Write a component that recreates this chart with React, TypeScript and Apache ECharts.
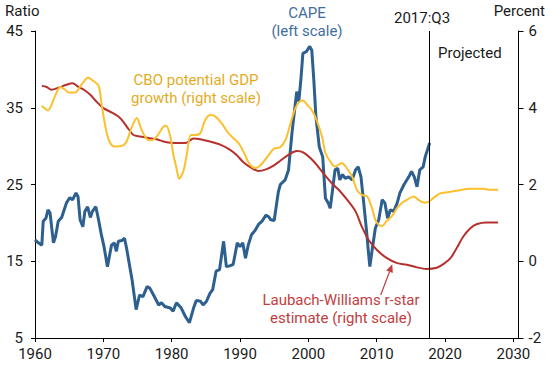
import React, { useEffect, useRef } from "react";
import * as echarts from "echarts";

const xTicks = [1960, 1970, 1980, 1990, 2000, 2010, 2020, 2030];
const leftTicks = [5, 15, 25, 35, 45];
const rightTicks = [-2, 0, 2, 4, 6];
const projectionStart = 2017.75;

const capeData: [number, number][] = [
  [1960.0, 17.8], [1960.5, 17.4], [1961.0, 17.1], [1961.2, 20.2], [1961.6, 20.6], [1961.9, 21.7],
  [1962.2, 21.3], [1962.7, 17.4], [1963.0, 18.2], [1963.4, 20.2], [1963.9, 20.7], [1964.6, 22.6],
  [1965.1, 23.3], [1965.5, 23.0], [1966.0, 23.9], [1966.3, 23.4], [1966.6, 20.4], [1967.0, 19.5],
  [1967.3, 21.5], [1967.7, 22.1], [1968.1, 20.7], [1968.4, 21.5], [1968.9, 22.1], [1969.3, 20.4],
  [1969.7, 18.5], [1970.1, 16.9], [1970.6, 14.3], [1971.2, 17.1], [1971.6, 17.4], [1971.9, 16.3],
  [1972.2, 17.6], [1972.7, 17.7], [1973.1, 18.0], [1973.4, 16.7], [1974.2, 12.6], [1974.8, 8.7],
  [1975.3, 10.6], [1975.8, 10.4], [1976.4, 11.7], [1976.8, 11.5], [1977.4, 10.5], [1978.1, 9.3],
  [1978.5, 9.6], [1979.0, 9.1], [1979.8, 8.9], [1980.2, 8.5], [1980.7, 9.6], [1981.4, 8.9],
  [1982.0, 7.8], [1982.6, 7.0], [1983.2, 8.9], [1983.6, 9.9], [1984.2, 9.8], [1984.6, 9.3],
  [1985.1, 9.8], [1985.6, 10.8], [1986.0, 11.3], [1986.5, 13.7], [1987.0, 13.9], [1987.6, 17.6],
  [1988.0, 14.3], [1988.5, 14.4], [1989.0, 14.6], [1989.6, 17.4], [1990.0, 16.9], [1990.4, 17.4],
  [1990.8, 15.4], [1991.2, 17.1], [1991.7, 18.5], [1992.2, 19.0], [1992.7, 19.8], [1993.2, 20.2],
  [1993.8, 21.0], [1994.2, 20.8], [1994.5, 20.4], [1995.0, 20.3], [1995.6, 24.0], [1995.9, 25.0],
  [1996.6, 25.6], [1997.1, 26.9], [1997.6, 31.7], [1998.1, 35.6], [1998.3, 37.1], [1998.6, 35.8],
  [1998.9, 38.6], [1999.2, 42.1], [1999.7, 42.3], [2000.2, 43.0], [2000.5, 42.5], [2000.8, 38.6],
  [2001.1, 33.9], [2001.6, 29.9], [2002.1, 28.6], [2002.5, 23.2], [2002.9, 22.6], [2003.2, 21.9],
  [2003.6, 24.7], [2003.9, 26.9], [2004.3, 27.1], [2004.6, 25.6], [2005.0, 26.3], [2005.4, 25.8],
  [2005.9, 26.0], [2006.4, 25.6], [2006.9, 26.9], [2007.3, 27.3], [2007.7, 26.0], [2008.1, 22.6],
  [2008.5, 19.1], [2008.8, 16.1], [2009.0, 14.3], [2009.4, 16.9], [2009.8, 19.3], [2010.3, 20.4],
  [2010.8, 23.0], [2011.2, 22.6], [2011.6, 20.6], [2012.0, 21.7], [2012.5, 21.5], [2013.0, 22.6],
  [2013.4, 23.9], [2014.0, 25.0], [2014.7, 26.0], [2015.1, 26.7], [2015.5, 26.0], [2015.9, 24.7],
  [2016.3, 26.9], [2016.8, 27.3], [2017.1, 28.6], [2017.75, 30.4],
];

const cboData: [number, number][] = [
  [1961.0, 4.05], [1961.9, 3.93], [1962.9, 4.29], [1963.7, 4.54], [1964.4, 4.47], [1964.9, 4.40],
  [1965.9, 4.40], [1966.8, 4.60], [1967.8, 4.79], [1968.3, 4.73], [1969.3, 4.57], [1969.8, 4.03],
  [1970.4, 3.42], [1971.0, 3.08], [1971.7, 2.99], [1972.9, 3.02], [1973.4, 3.12], [1974.2, 3.51],
  [1974.9, 3.73], [1975.6, 3.42], [1976.4, 3.18], [1977.1, 3.15], [1977.8, 3.25], [1978.8, 3.51],
  [1979.2, 3.53], [1979.8, 3.25], [1980.2, 2.82], [1980.7, 2.43], [1981.1, 2.15], [1981.7, 2.34],
  [1982.2, 2.77], [1982.8, 3.29], [1983.4, 3.29], [1984.2, 3.34], [1984.9, 3.68], [1985.7, 3.81],
  [1986.4, 3.77], [1987.3, 3.60], [1988.2, 3.36], [1989.0, 3.21], [1989.9, 3.05], [1990.7, 2.78],
  [1991.4, 2.53], [1992.2, 2.43], [1992.8, 2.47], [1993.4, 2.58], [1994.2, 2.77], [1995.0, 2.94],
  [1995.9, 2.97], [1996.7, 3.18], [1997.4, 3.60], [1998.1, 3.99], [1998.7, 4.16], [1999.2, 4.19],
  [1999.9, 4.06], [2000.5, 3.94], [2001.2, 3.68], [2002.0, 3.25], [2002.5, 2.82], [2003.2, 2.60],
  [2003.9, 2.47], [2004.9, 2.56], [2005.6, 2.43], [2006.4, 2.21], [2007.1, 1.86], [2007.8, 1.73],
  [2008.6, 1.69], [2009.3, 1.39], [2009.8, 1.08], [2010.3, 0.95], [2010.8, 0.91], [2011.4, 1.04],
  [2012.2, 1.17], [2013.0, 1.39], [2013.7, 1.52], [2014.4, 1.60], [2015.4, 1.69], [2016.1, 1.60],
  [2016.9, 1.53], [2017.6, 1.55], [2018.6, 1.69], [2019.3, 1.77], [2020.3, 1.80], [2021.7, 1.84],
  [2023.7, 1.89], [2025.6, 1.89], [2026.6, 1.86], [2027.75, 1.86],
];

const rstarData: [number, number][] = [
  [1961.0, 4.57], [1961.7, 4.54], [1962.4, 4.47], [1963.4, 4.52], [1964.6, 4.60], [1965.5, 4.64],
  [1966.3, 4.55], [1967.3, 4.45], [1968.1, 4.34], [1969.0, 4.16], [1970.0, 3.99], [1971.2, 3.88],
  [1972.2, 3.77], [1972.9, 3.64], [1973.7, 3.44], [1974.4, 3.29], [1975.4, 3.25], [1976.6, 3.21],
  [1977.8, 3.18], [1978.8, 3.12], [1979.8, 3.09], [1981.2, 3.08], [1982.2, 3.09], [1983.2, 3.20],
  [1984.2, 3.18], [1985.6, 3.12], [1987.1, 3.04], [1988.5, 2.91], [1989.5, 2.77], [1990.5, 2.58],
  [1991.5, 2.45], [1992.7, 2.35], [1993.9, 2.40], [1994.9, 2.49], [1995.9, 2.62], [1997.3, 2.80],
  [1998.3, 2.87], [1999.3, 2.83], [2000.8, 2.60], [2002.2, 2.29], [2003.5, 2.02], [2004.5, 1.85],
  [2005.6, 1.62], [2006.9, 1.30], [2007.8, 0.91], [2008.8, 0.56], [2010.0, 0.30], [2011.5, 0.08],
  [2013.0, -0.05], [2014.4, -0.09], [2015.9, -0.16], [2017.3, -0.20], [2018.8, -0.17], [2019.8, -0.07],
  [2020.8, 0.08], [2021.7, 0.34], [2022.7, 0.65], [2023.7, 0.86], [2024.7, 0.97], [2026.1, 1.01],
  [2027.75, 1.01],
];

const FONT = "Roboto";
const FS = 15;
const TEXT = "#1a1a1a";
const BLUE = "#2d5f8f";
const YELLOW = "#fcc02c";
const RED = "#b5312d";

export default function App() {
  const ref = useRef<HTMLDivElement>(null);
  useEffect(() => {
    if (!ref.current) return;
    const chart = echarts.init(ref.current, undefined, { renderer: "svg" });
    const axisLine = { show: true, onZero: false, lineStyle: { color: "#000", width: 1 } };
    const fmt = (v: number) => String(v);
    chart.setOption({
      animation: false,
      grid: { left: 35, right: 31.5, top: 31, bottom: 27, containLabel: false },
      xAxis: {
        type: "value",
        min: 1960,
        max: 2030.75,
        interval: 10,
        axisLine,
        splitLine: { show: false },
        axisTick: { show: true, length: 4, customValues: xTicks, lineStyle: { color: "#000" } },
        axisLabel: {
          customValues: xTicks,
          formatter: fmt,
          margin: 8,
          fontFamily: FONT,
          fontSize: FS,
          color: TEXT,
        },
      },
      yAxis: [
        {
          type: "value",
          position: "left",
          min: 5,
          max: 45,
          interval: 10,
          axisLine,
          splitLine: { show: false },
          axisTick: { show: true, length: 4, customValues: leftTicks, lineStyle: { color: "#000" } },
          axisLabel: { customValues: leftTicks, formatter: fmt, margin: 12, fontFamily: FONT, fontSize: FS, color: TEXT },
        },
        {
          type: "value",
          position: "right",
          min: -2,
          max: 6,
          interval: 2,
          axisLine,
          splitLine: { show: false },
          axisTick: { show: true, length: 5, customValues: rightTicks, lineStyle: { color: "#000" } },
          axisLabel: { customValues: rightTicks, formatter: fmt, margin: 10, fontFamily: FONT, fontSize: FS, color: TEXT },
        },
      ],
      series: [
        {
          type: "line",
          name: "CAPE",
          yAxisIndex: 0,
          data: capeData,
          showSymbol: false,
          lineStyle: { color: BLUE, width: 3 },
          itemStyle: { color: BLUE },
          z: 2,
        },
        {
          type: "line",
          name: "Laubach-Williams r-star",
          yAxisIndex: 1,
          data: rstarData,
          showSymbol: false,
          smooth: 0.3,
          lineStyle: { color: RED, width: 2 },
          itemStyle: { color: RED },
          z: 3,
        },
        {
          type: "line",
          name: "CBO potential GDP growth",
          yAxisIndex: 1,
          data: cboData,
          showSymbol: false,
          smooth: 0.3,
          lineStyle: { color: YELLOW, width: 2 },
          itemStyle: { color: YELLOW },
          z: 4,
          markLine: {
            silent: true,
            symbol: "none",
            label: { show: false },
            lineStyle: { color: "#000", width: 1, type: "solid" },
            data: [{ xAxis: projectionStart }],
          },
        },
      ],
      graphic: [
        { type: "text", x: 5, y: 11, style: { text: "Ratio", font: `${FS}px ${FONT}`, fill: TEXT, verticalAlign: "middle" } },
        { type: "text", x: 545, y: 11, style: { text: "Percent", font: `${FS}px ${FONT}`, fill: TEXT, align: "right", verticalAlign: "middle" } },
        {
          type: "text", x: 422, y: 18,
          style: { text: "2017:Q3", font: `${FS}px ${FONT}`, fill: TEXT, align: "center", verticalAlign: "middle" },
        },
        {
          type: "text", x: 438, y: 53,
          style: { text: "Projected", font: `${FS}px ${FONT}`, fill: TEXT, align: "left", verticalAlign: "middle" },
        },
        {
          type: "text", x: 307, y: 3.5,
          style: {
            text: "CAPE\n(left scale)", font: `${FS}px ${FONT}`, fill: "#3f6e9c",
            align: "center", verticalAlign: "top", lineHeight: 18,
          },
        },
        {
          type: "text", x: 196, y: 71,
          style: {
            text: "CBO potential GDP\ngrowth (right scale)", font: `${FS}px ${FONT}`, fill: "#e3ac1f",
            align: "center", verticalAlign: "top", lineHeight: 18,
          },
        },
        {
          type: "text", x: 341, y: 291,
          style: {
            text: "Laubach-Williams r-star\nestimate (right scale)", font: `${FS}px ${FONT}`, fill: "#c0403f",
            align: "center", verticalAlign: "top", lineHeight: 18,
          },
        },
        {
          type: "line",
          shape: { x1: 380.7, y1: 295, x2: 389.5, y2: 271.8 },
          style: { stroke: "#c0403f", lineWidth: 1.2 },
        },
        {
          type: "polygon",
          shape: { points: [[392.3, 264.3], [392.8, 273.0], [386.2, 270.6]] },
          style: { fill: "#c0403f" },
        },
      ],
    });
    return () => chart.dispose();
  }, []);
  return (
    <div
      ref={ref}
      style={{ position: "fixed", left: 0, top: 0, width: 550, height: 365, background: "#fff" }}
    />
  );
}
